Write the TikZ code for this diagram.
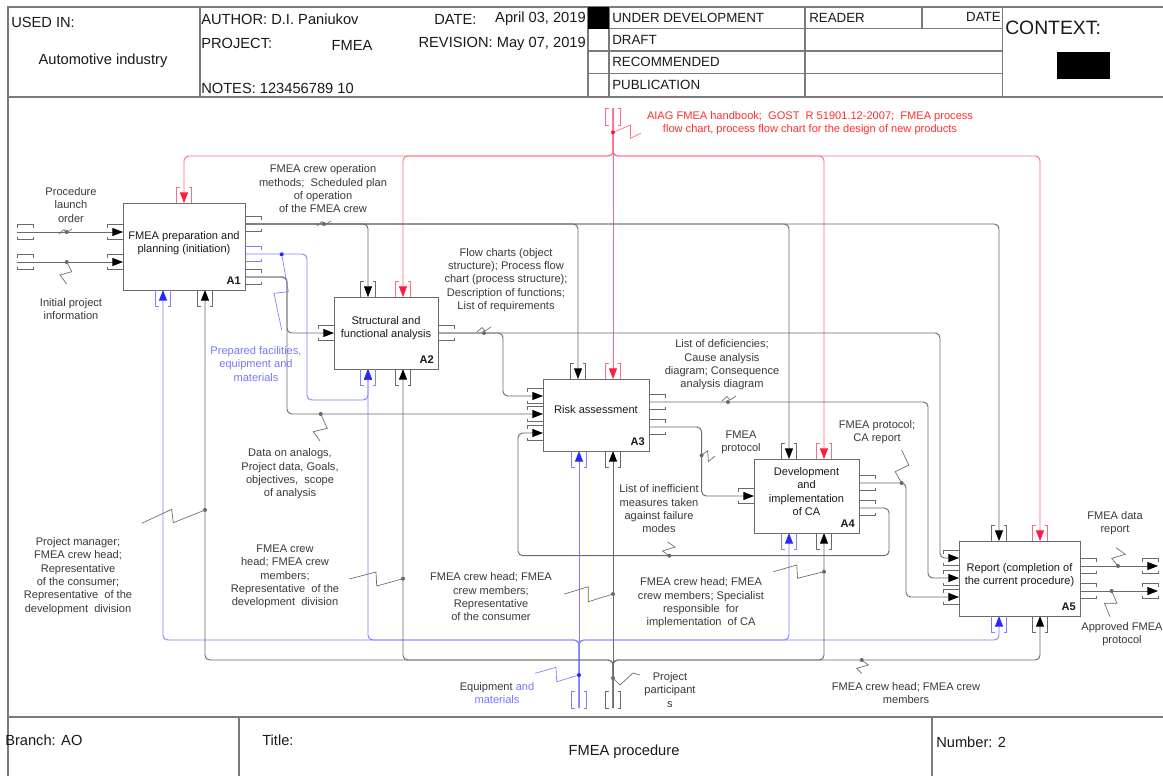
\documentclass[tikz,border=0pt]{standalone}
\usepackage{fontspec}
\setmainfont{Liberation Sans}
\usetikzlibrary{arrows.meta}
\definecolor{lg}{HTML}{6A6A6A}
\definecolor{fr}{HTML}{7A7A7A}
\definecolor{tg}{HTML}{3A3A3A}
\definecolor{hk}{HTML}{1A1A1A}
\definecolor{rl}{HTML}{FF6A85}
\definecolor{ra}{HTML}{FF1A40}
\definecolor{bl}{HTML}{8080FF}
\definecolor{ba}{HTML}{2828FF}
\definecolor{rt}{HTML}{FF3030}
\definecolor{bt}{HTML}{7878FF}
\newcommand\bIn[3]{\draw[#1,brk] (#2-16,#3-4.5) -- (#2-16,#3-7.5) -- (#2,#3-7.5) (#2-16,#3+4.5) -- (#2-16,#3+7.5) -- (#2,#3+7.5);}
\newcommand\bOut[3]{\draw[#1,brk] (#2+16,#3-4.5) -- (#2+16,#3-7.5) -- (#2,#3-7.5) (#2+16,#3+4.5) -- (#2+16,#3+7.5) -- (#2,#3+7.5);}
\newcommand\bTop[3]{\draw[#1,brk] (#2-4.5,#3-16) -- (#2-7.5,#3-16) -- (#2-7.5,#3) (#2+4.5,#3-16) -- (#2+7.5,#3-16) -- (#2+7.5,#3);}
\newcommand\bBot[3]{\draw[#1,brk] (#2-4.5,#3+16) -- (#2-7.5,#3+16) -- (#2-7.5,#3) (#2+4.5,#3+16) -- (#2+7.5,#3+16) -- (#2+7.5,#3);}
\newcommand\tH[3]{\draw[#1,brk] (#2,#3-4.5) -- (#2,#3-7.5) -- (#2+16,#3-7.5) -- (#2+16,#3-4.5) (#2,#3+4.5) -- (#2,#3+7.5) -- (#2+16,#3+7.5) -- (#2+16,#3+4.5);}
\newcommand\tV[3]{\draw[#1,brk] (#2-4.5,#3) -- (#2-7.5,#3) -- (#2-7.5,#3+17) -- (#2-4.5,#3+17) (#2+4.5,#3) -- (#2+7.5,#3) -- (#2+7.5,#3+17) -- (#2+4.5,#3+17);}
\newcommand\idef[8]{%
  \node[box, minimum width={(#4-#2)*0.75pt}, minimum height={(#5-#3)*0.75pt}] (#1) at ({(#2+#4)/2},{(#3+#5)/2}) {};
  \node[boxt] (#1t) at ({(#2+#4)/2},#8) {#6};
  \node[boxl, anchor=east] (#1l) at (#4-4,#5-9) {#7};}
\begin{document}
\begin{tikzpicture}[x=0.75pt,y=-0.75pt,
  frame/.style={draw=fr, line width=0.8pt},
  box/.style={draw=lg, line width=0.75pt, fill=white, inner sep=0, outer sep=0},
  boxt/.style={font=\fontsize{8.3}{10.2}\selectfont, align=center, text=hk, inner sep=0},
  boxl/.style={font=\fontsize{8.3}{10}\selectfont\bfseries, text=hk, inner sep=0},
  lab/.style={font=\fontsize{8.3}{10}\selectfont, align=center, text=tg, inner sep=0},
  hdr/.style={font=\fontsize{11}{13}\selectfont, text=hk, inner sep=0},
  st/.style={font=\fontsize{10}{12}\selectfont, text=hk, inner sep=0},
  brk/.style={line width=0.6pt},
  gc/.style={draw=lg, line width=0.7pt, rounded corners=3.5pt},
  rc/.style={draw=rl, line width=0.7pt, rounded corners=3.5pt},
  bc/.style={draw=bl, line width=0.7pt, rounded corners=3.5pt},
  garr/.style={gc, -{Triangle[length=8pt,width=6pt,color=black]}},
  rarr/.style={rc, -{Triangle[length=8pt,width=6pt,color=ra]}},
  barr/.style={bc, -{Triangle[length=8pt,width=6pt,color=ba]}},
  sq/.style={line width=0.5pt},
  dot/.style={circle, fill, inner sep=0, minimum size=3pt}
]
\useasboundingbox (0,0) rectangle (1163,776);
\fill[white] (0,0) rectangle (1163,776);

% ---------- header ----------
\draw[frame] (8,776) -- (8,7) -- (1163,7);
\draw[frame] (8,97) -- (1163,97);
\draw[frame] (8,717) -- (1163,717);
\draw[frame] (200,7) -- (200,97);
\draw[frame] (588,7) -- (588,97);
\draw[frame] (609,7) -- (609,97);
\draw[frame] (805,7) -- (805,97);
\draw[frame] (922,7) -- (922,28.5);
\draw[frame] (1002.5,7) -- (1002.5,97);
\draw[frame] (588,28.5) -- (1002.5,28.5);
\draw[frame] (588,51) -- (1002.5,51);
\draw[frame] (588,73.5) -- (1002.5,73.5);
\fill[black] (588,7) rectangle (609,28.5);
\fill[black] (1057,52) rectangle (1110,79);
\draw[frame] (239,717) -- (239,776);
\draw[frame] (932,717) -- (932,776);

\node[hdr, anchor=west] (usedin) at (11,22) {USED IN:};
\node[hdr] (indus) at (103,61) {Automotive industry};
\node[hdr, anchor=west] (author) at (201,19) {AUTHOR: D.I. Paniukov};
\node[hdr, anchor=west] (datek) at (434,19) {DATE:};
\node[hdr, anchor=east] (datev) at (586,19) {April 03, 2019};
\node[hdr, anchor=west] (projk) at (201,43) {PROJECT:};
\node[hdr] (projv) at (352,45) {FMEA};
\node[hdr, anchor=east] (revis) at (586,44) {REVISION: May 07, 2019};
\node[hdr, anchor=west] (notes) at (201,88) {NOTES: 123456789 10};
\node[st, anchor=west] (s1) at (612,17.5) {UNDER DEVELOPMENT};
\node[st, anchor=west] (s2) at (612,40) {DRAFT};
\node[st, anchor=west] (s3) at (612,62) {RECOMMENDED};
\node[st, anchor=west] (s4) at (612,85) {PUBLICATION};
\node[st, anchor=west] (reader) at (809,17.5) {READER};
\node[st, anchor=east] (sdate) at (1001,16.5) {DATE};
\node[font=\fontsize{14.5}{16}\selectfont, text=hk, inner sep=0, anchor=west] (ctx) at (1005,28) {CONTEXT:};

\node[hdr, anchor=west] (branch) at (5,740) {Branch: AO};
\node[hdr, anchor=west] (titlek) at (262,740) {Title:};
\node[hdr] (titlev) at (624,752) {FMEA procedure};
\node[hdr, anchor=west] (number) at (936,742) {Number: 2};

% ---------- coordinates ----------
\coordinate (L1) at (17,232); \coordinate (L2) at (17,262);
\coordinate (R1) at (1158,566); \coordinate (R2) at (1158,591);
\coordinate (T) at (613,108);
\coordinate (Bb) at (579,708); \coordinate (Bg) at (613,708);

\coordinate (A1i1) at (123,232); \coordinate (A1i2) at (123,262);
\coordinate (A1c) at (184,203);
\coordinate (A1m1) at (163,290); \coordinate (A1m2) at (205,290);
\coordinate (A1o1) at (245,224); \coordinate (A1o2) at (245,254); \coordinate (A1o3) at (245,277);

\coordinate (A2i) at (334,333);
\coordinate (A2c1) at (368,297); \coordinate (A2c2) at (403,297);
\coordinate (A2m1) at (368,369); \coordinate (A2m2) at (403,369);
\coordinate (A2o) at (438,333);

\coordinate (A3i1) at (543,396); \coordinate (A3i2) at (543,414); \coordinate (A3i3) at (543,433);
\coordinate (A3c1) at (578,379); \coordinate (A3c2) at (613,379);
\coordinate (A3m1) at (579,451); \coordinate (A3m2) at (613,451);
\coordinate (A3o1) at (649,402); \coordinate (A3o2) at (649,427);

\coordinate (A4i) at (754,496);
\coordinate (A4c1) at (789,459); \coordinate (A4c2) at (824,459);
\coordinate (A4m1) at (789,533); \coordinate (A4m2) at (824,533);
\coordinate (A4o1) at (859,483); \coordinate (A4o2) at (859,508);

\coordinate (A5i1) at (959,558); \coordinate (A5i2) at (959,578); \coordinate (A5i3) at (959,597);
\coordinate (A5c1) at (999,541); \coordinate (A5c2) at (1040,541);
\coordinate (A5m1) at (999,616); \coordinate (A5m2) at (1040,616);
\coordinate (A5o1) at (1080,566); \coordinate (A5o2) at (1080,591);

% ---------- connectors ----------
% red controls
\draw[rarr] (T) -- (A3c2);
\draw[rarr] (T) -- (613,156) -| (A1c);
\draw[rarr] (T) -- (613,156) -| (A2c2);
\draw[rarr] (T) -- (613,156) -| (A4c2);
\draw[rarr] (T) -- (613,156) -| (A5c2);
% black controls from A1
\draw[garr] (A1o1) -| (A2c1);
\draw[garr] (A1o1) -| (A3c1);
\draw[garr] (A1o1) -| (A4c1);
\draw[garr] (A1o1) -| (A5c1);
% inputs
\draw[garr] (L1) -- (A1i1);
\draw[garr] (L2) -- (A1i2);
\draw[garr] (A1o3) -- (287,277) |- (A2i);
\draw[garr] (A1o3) -- (287,277) |- (A3i2);
\draw[garr] (A2o) -- (503,333) |- (A3i1);
\draw[garr] (A2o) -- (940,333) |- (A5i1);
\draw[garr] (A4o2) -- (889,508) -- (889,555.7) -- (518,555.7) |- (A3i3);
\draw[garr] (A3o2) -- (701.6,427) |- (A4i);
\draw[garr] (A3o1) -- (928,402) |- (A5i2);
\draw[garr] (A4o1) -- (906,483) |- (A5i3);
\draw[garr] (A5o1) -- (R1);
\draw[garr] (A5o2) -- (R2);
% blue mechanisms
\draw[barr] (A1o2) -- (307,254) -- (307,400) -- (368,400) -- (A2m1);
\draw[barr] (Bb) -- (A3m1);
\draw[barr] (Bb) -- (579,640) -| (A1m1);
\draw[barr] (Bb) -- (579,640) -| (A2m1);
\draw[barr] (Bb) -- (579,640) -| (A4m1);
\draw[barr] (Bb) -- (579,640) -| (A5m1);
% gray mechanisms
\draw[garr] (Bg) -- (A3m2);
\draw[garr] (Bg) -- (613,660) -| (A1m2);
\draw[garr] (Bg) -- (613,660) -| (A2m2);
\draw[garr] (Bg) -- (613,660) -| (A4m2);
\draw[garr] (Bg) -- (613,660) -| (A5m2);

% ---------- boxes ----------
\idef{A1}{123}{203}{245}{290}{FMEA preparation and\\planning (initiation)}{A1}{243}
\idef{A2}{334}{297}{438}{369}{Structural and\\functional analysis}{A2}{328}
\idef{A3}{543}{379}{649}{451}{Risk assessment}{A3}{410}
\idef{A4}{754}{459}{859}{533}{Development\\and\\implementation\\of CA}{A4}{491.5}
\idef{A5}{959}{541}{1080}{616}{Report (completion of\\the current procedure)}{A5}{575}

% ---------- brackets ----------
\bIn{lg}{123}{232} \bIn{lg}{123}{262}
\bTop{rl}{184}{203}
\bBot{bl}{163}{290} \bBot{lg}{205}{290}
\bOut{lg}{245}{224} \bOut{bl}{245}{254} \bOut{lg}{245}{277}

\bIn{lg}{334}{333}
\bTop{lg}{368}{297} \bTop{rl}{403}{297}
\bBot{bl}{368}{369} \bBot{lg}{403}{369}
\bOut{lg}{438}{333}

\bIn{lg}{543}{396} \bIn{lg}{543}{414} \bIn{lg}{543}{433}
\bTop{lg}{578}{379} \bTop{rl}{613}{379}
\bBot{bl}{579}{451} \bBot{lg}{613}{451}
\bOut{lg}{649}{402} \bOut{lg}{649}{427}

\bIn{lg}{754}{496}
\bTop{lg}{789}{459} \bTop{rl}{824}{459}
\bBot{bl}{789}{533} \bBot{lg}{824}{533}
\bOut{lg}{859}{483} \bOut{lg}{859}{508}

\bIn{lg}{959}{558} \bIn{lg}{959}{578} \bIn{lg}{959}{597}
\bTop{lg}{999}{541} \bTop{rl}{1040}{541}
\bBot{bl}{999}{616} \bBot{lg}{1040}{616}
\bOut{lg}{1080}{566} \bOut{lg}{1080}{591}

\tH{lg}{17}{232} \tH{lg}{17}{262}
\tH{lg}{1142}{566} \tH{lg}{1142}{591}
\tV{rl}{613}{108}
\tV{bl}{579}{691}
\tV{lg}{613}{691}

% ---------- squiggles and dots ----------
\draw[lg,sq] (59,234) -- (64,229.5) -- (66,233) -- (72,229);
\node[dot, lg] (d1) at (66.7,232) {};
\draw[lg,sq] (66.7,262) -- (71.7,271.7) -- (60,275) -- (66.7,284);
\node[dot, lg] (d2) at (66.7,262) {};
\draw[lg,sq] (317,226) -- (322,221.5) -- (325,225) -- (331,221);
\node[dot, lg] (d3) at (324,224) {};
\draw[lg,sq] (477,332) -- (482,327.5) -- (485,331) -- (491,327);
\node[dot, lg] (d4) at (484,333) {};
\draw[bl,sq] (281.7,254.3) -- (288.3,291.7) -- (274,293.3) -- (281.7,330);
\node[dot, ba] (d5) at (281.7,254.3) {};
\draw[lg,sq] (320.7,414) -- (327.3,428.3) -- (313.3,431.7) -- (320,441);
\node[dot, lg] (d6) at (320.7,414) {};
\draw[rl,sq] (613,132.3) -- (630.5,125) -- (630.5,138.3) -- (641,133);
\node[dot, ra] (d7) at (613,132.3) {};
\draw[lg,sq] (722,401) -- (727,396.5) -- (730,400) -- (736,396);
\node[dot, lg] (d8) at (728,402) {};
\draw[lg,sq] (701.6,455.3) -- (707.7,450.7) -- (708.4,461.7) -- (714.9,456);
\node[dot, lg] (d9) at (701.6,455.3) {};
\draw[lg,sq] (901.6,483) -- (895.2,471.7) -- (908.8,465) -- (901.6,450);
\node[dot, lg] (d10) at (901.6,483) {};
\draw[lg,sq] (669.3,555.7) -- (662.5,551) -- (675,547) -- (667.5,542);
\node[dot, lg] (d11) at (669.3,555.7) {};
\draw[lg,sq] (1118,566) -- (1111.7,558.3) -- (1125.3,554.3) -- (1116,547.7);
\node[dot, lg] (d12) at (1118,566) {};
\draw[lg,sq] (1111.7,591) -- (1117,603.3) -- (1104.5,603.3) -- (1110,616.7);
\node[dot, lg] (d13) at (1111.7,591) {};
\draw[lg,sq] (205,510) -- (173.3,522.7) -- (171.7,509.3) -- (141.7,523.3);
\node[dot, lg] (d14) at (205,510) {};
\draw[lg,sq] (403,578.7) -- (376.7,586) -- (376,572) -- (349.3,579);
\node[dot, lg] (d15) at (403,578.7) {};
\draw[lg,sq] (613,594) -- (588.3,601.7) -- (588.3,586.7) -- (564.3,594);
\node[dot, lg] (d16) at (613,594) {};
\draw[lg,sq] (824,571.7) -- (797.5,578.3) -- (796.8,565) -- (773.4,571.7);
\node[dot, lg] (d17) at (824,571.7) {};
\draw[lg,sq] (861.7,660) -- (868.3,665) -- (856.7,668.3) -- (861.7,673.3);
\node[dot, lg] (d18) at (861.7,660) {};
\draw[bl,sq] (579,675) -- (556.7,681.7) -- (556,667.3) -- (535,673.3);
\node[dot, ba] (d19) at (579,675) {};
\draw[lg,sq] (613,678) -- (620,685) -- (633,673) -- (640,675);
\node[dot, lg] (d20) at (613,678) {};

% ---------- labels ----------
\node[lab] (lProc) at (71,205) {Procedure\\launch\\order};
\node[lab] (lInit) at (71,309) {Initial project\\information};
\node[lab] (lMeth) at (323,189) {FMEA crew operation\\methods;\ \ Scheduled plan\\of operation\\of the FMEA crew};
\node[lab] (lFlow) at (506,280) {Flow charts (object\\structure); Process flow\\chart (process structure);\\Description of functions;\\List of requirements};
\node[lab, text=bt] (lPrep) at (256,364) {Prepared facilities,\\equipment and\\materials};
\node[lab] (lData) at (290,474) {Data on analogs,\\Project data, Goals,\\objectives,\ \ scope\\of analysis};
\node[lab, text=rt] (lAIAG) at (810,123) {AIAG FMEA handbook;\ \ GOST\ \ R 51901.12-2007;\ \ FMEA process\\flow chart, process flow chart for the design of new products};
\node[lab] (lDef) at (722,365) {List of deficiencies;\\Cause analysis\\diagram; Consequence\\analysis diagram};
\node[lab] (lProt) at (741,442) {FMEA\\protocol};
\node[lab] (lIneff) at (659,509) {List of inefficient\\measures taken\\against failure\\modes};
\node[lab] (lCA) at (877,432) {FMEA protocol;\\CA report};
\node[lab] (lData2) at (1115,523) {FMEA data\\report};
\node[lab] (lAppr) at (1122,634) {Approved FMEA\\protocol};
\node[lab] (lPM) at (78,576) {Project manager;\\FMEA crew head;\\Representative\\of the consumer;\\Representative\ \ of the\\development\ \ division};
\node[lab] (lCrew1) at (285,576.5) {FMEA crew\\head; FMEA crew\\members;\\Representative\ \ of the\\development\ \ division};
\node[lab] (lCrew2) at (491,597) {FMEA crew head; FMEA\\crew members;\\Representative\\of the consumer};
\node[lab] (lCrew3) at (701,603) {FMEA crew head; FMEA\\crew members; Specialist\\responsible\ \ for\\implementation\ \ of CA};
\node[lab] (lCrew4) at (906,693) {FMEA crew head; FMEA crew\\members};
\node[lab] (lEquip) at (497,693) {Equipment \textcolor{bt}{and}\\\textcolor{bt}{materials}};
\node[lab] (lPart) at (670,690) {Project\\participant\\s};
\end{tikzpicture}
\end{document}
